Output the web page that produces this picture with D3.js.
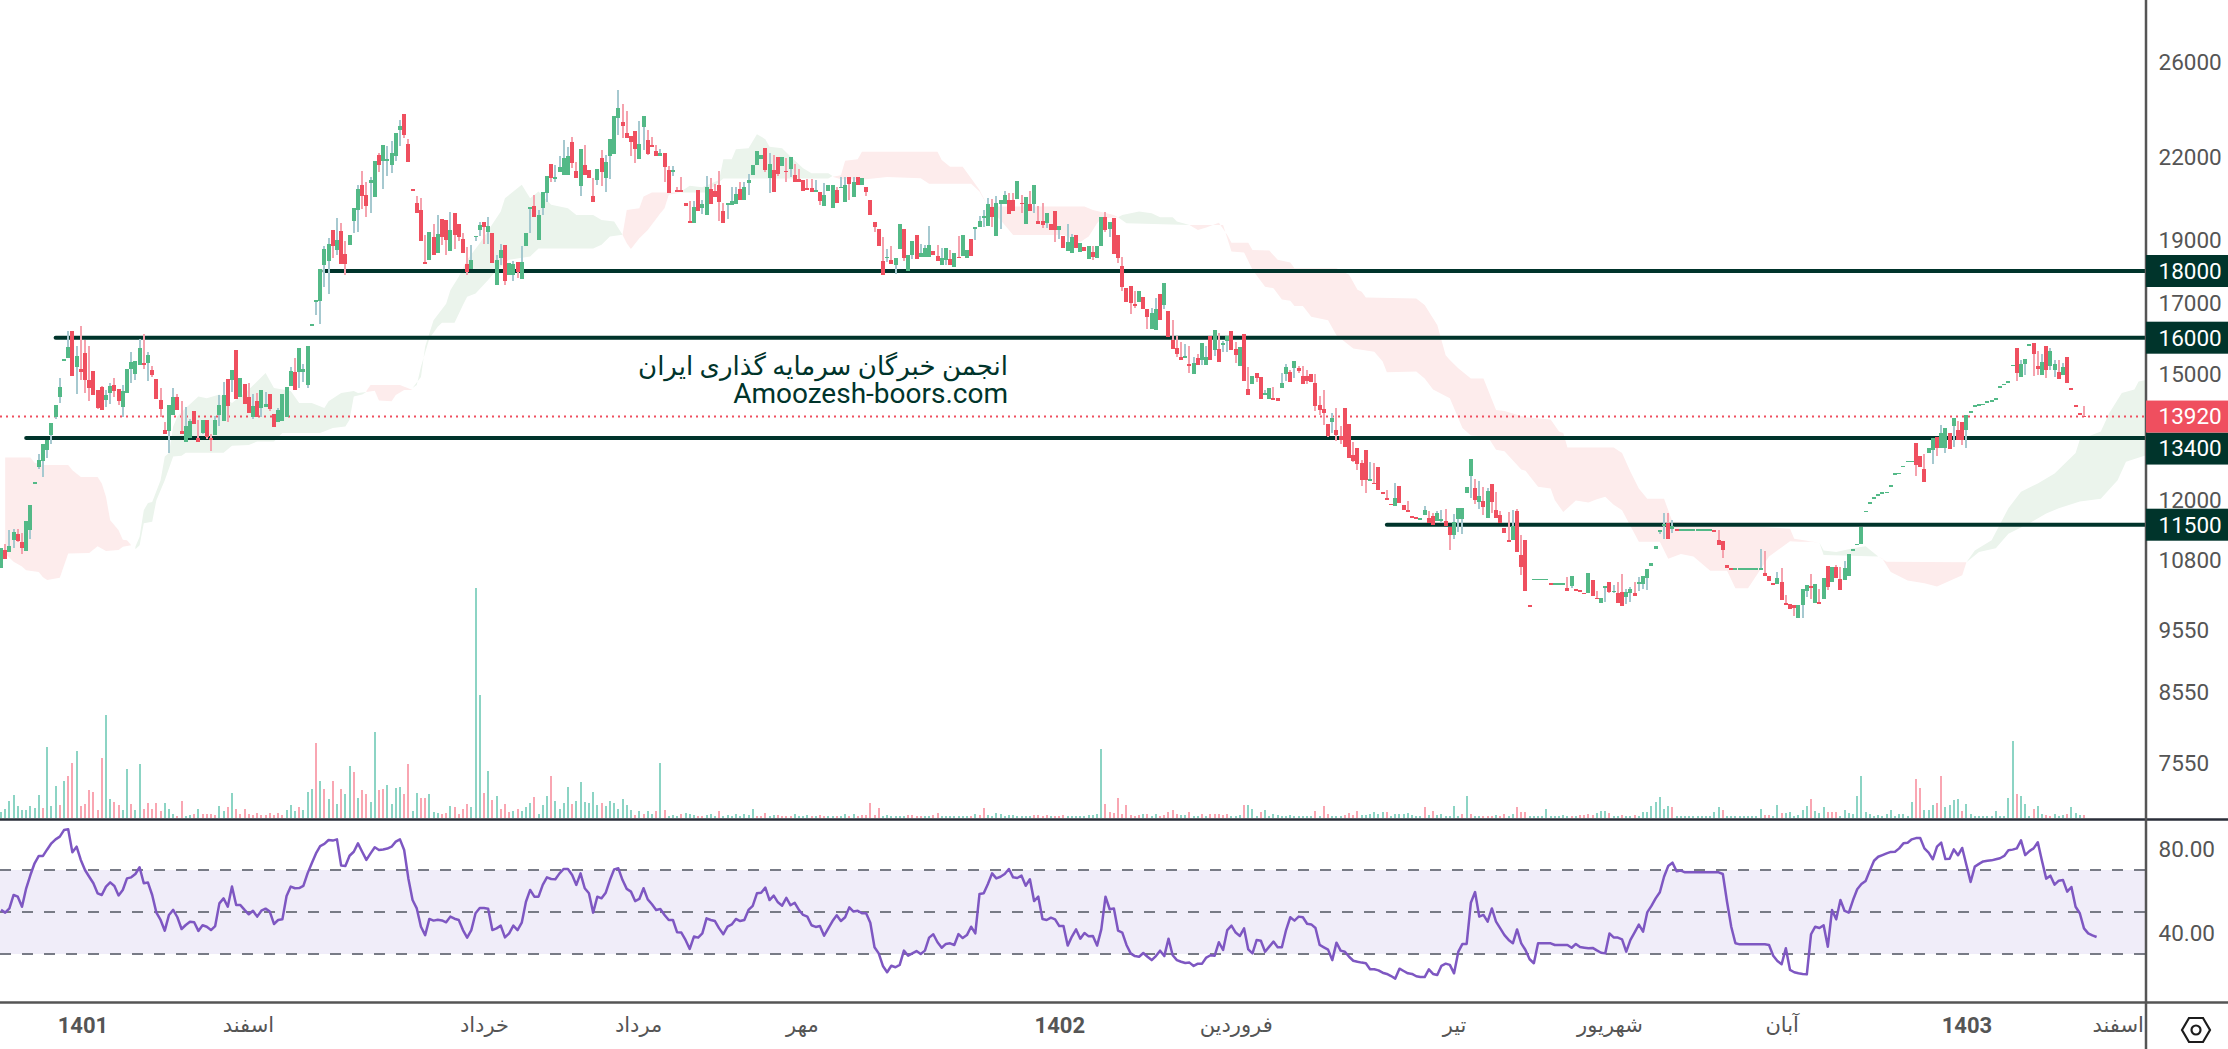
<!DOCTYPE html>
<html lang="fa"><head><meta charset="utf-8">
<script src="https://cdn.jsdelivr.net/npm/d3@7"></script>
<style>
html,body{margin:0;padding:0;background:#fff;overflow:hidden}
svg{display:block;font-family:Roboto,"Noto Sans","DejaVu Sans",sans-serif}
</style></head><body><svg id="c" width="2228" height="1049"></svg>
<script>
// [open, high, low, close] per trading day
const candlesA=[[10660,11030,10660,11030],[11000,11110,10820,10830],[10950,11390,10950,11070],[11200,11420,11030,11350],[11310,11420,11160,11180],[11150,11330,10920,11030],[10980,11570,10980,11570],[11390,11910,11210,11910],[12390,12400,12390,12400],[12740,13030,12690,12890],[12870,13260,12520,13260],[13120,13360,12940,13360],[13480,13760,13260,13760],[13900,14210,13860,14210],[14410,14900,14260,14670],[15390,15400,15380,15400],[15450,16200,15430,15740],[16200,16200,14960,14960],[15190,15770,14490,15490],[15140,16340,14850,15060],[15570,15930,14520,14850],[14850,15770,14310,14650],[15090,15090,14470,14470],[14600,14600,14110,14140],[14670,14690,14090,14090],[14340,14600,14160,14470],[14520,14770,14240,14690],[14720,14900,14420,14570],[14620,14620,14210,14310],[14160,14720,13910,14570],[14520,15140,14520,15140],[15140,15600,14770,15330],[15010,15350,14850,15350],[15250,15960,15250,15710],[15300,16100,15140,15250],[15300,15600,14820,15520],[15110,15220,14940,14980],[14880,14880,14370,14370],[14340,14650,13910,14110],[13600,13790,13500,13500],[13570,14210,13060,14210],[13960,14650,13960,14420],[14420,14490,14090,14090],[13570,14310,13500,13500],[13310,14150,13310,13700],[13400,13860,13400,13820],[14060,14060,13740,13740],[13400,13840,13310,13310],[13530,13840,13500,13840],[13840,13840,13380,13420],[13400,13500,13110,13350],[13480,13940,13480,13840],[13960,14470,13700,14210],[13820,14800,13820,14470],[14880,14880,13790,14190],[14850,15110,14540,15110],[15660,15660,14370,14370],[14420,14900,14420,14900],[14750,14750,14240,14240],[14420,14770,14010,14010],[13910,14490,13860,14190],[14310,14520,13910,13910],[14140,14600,13910,14600],[14160,14540,14160,14240],[14490,14490,14060,14110],[13980,13980,13670,13670],[13790,14140,13790,14090],[13820,14490,13820,14490],[13910,14670,13910,14670],[14700,15200,14700,15090],[15060,15440,14600,14600],[15060,15710,14650,15710],[15060,15270,14800,15140],[14720,15770,14650,15770],[16370,16380,16370,16380],[17080,17100,16650,17100],[17060,18050,16390,18050],[18200,18810,17500,18710],[18330,19080,17280,18880],[19350,19350,18430,18810],[18680,19770,18520,19010],[19310,19590,18230,18230],[18550,18980,17870,18230],[18850,19190,18850,19190],[19670,20120,19250,20120],[20050,20950,19280,20810],[20950,21470,20090,20550],[20590,21060,19800,20190],[21030,21250,19940,21140],[20520,21860,20520,21860],[22100,22170,21450,21710],[21860,22480,20810,22480],[21860,22450,21290,21940],[21710,22650,21400,22170],[22050,22960,21860,22960],[23090,23510,22450,23260],[23750,23750,22770,22890],[22530,22730,21820,21820],[20790,20790,20780,20780],[20300,20550,19940,19940],[20050,20480,18980,18980],[18290,19190,18230,18230],[18360,19280,18360,19280],[19120,19560,18520,18520],[18580,19870,18580,19220],[19740,19740,18850,19120],[19700,19700,18520,19010],[18650,19980,18650,19350],[19940,19940,18710,19180],[19560,19560,18980,19120],[19050,19250,18580,18580],[18230,18780,17880,17980],[18070,18850,18070,18360],[19150,19160,18980,19160],[19350,19630,19150,19520],[19630,19630,18880,19450],[19280,19800,18880,19490],[19250,19250,18260,18260],[17560,18520,17560,18360],[18430,18880,18200,18680],[18850,18850,17570,17690],[17880,18260,17880,18260],[17880,18330,17690,18230],[18290,18290,17780,17980],[17750,18810,17750,18290],[18810,19250,18810,19250],[20090,20160,19250,20160],[20190,20590,19800,19800],[19010,20050,19010,19870],[20120,20700,19870,20700],[20660,21290,20340,21290],[21740,21740,21060,21210],[21170,21710,21060,21250],[21420,22050,21420,21630]];
const candlesB=[[21320,22690,21320,21970],[21320,22410,21320,22050],[22610,22810,21590,21780],[21480,21820,21210,21210],[20910,22330,20550,22330],[21710,22490,21320,21320],[21510,21510,21210,21210],[20550,21210,20340,20340],[21140,21550,20960,21550],[21980,22290,20910,21440],[21210,22100,20700,21820],[22050,22730,21170,22730],[22130,23670,22130,23670],[23590,24800,22890,24010],[23400,24170,22770,23240],[22960,23870,22770,22770],[22840,22840,22050,22610],[23050,23050,21780,22330],[21940,23470,21940,22530],[23220,23670,22290,23670],[22690,23090,22100,22130],[22490,22810,22410,22410],[22250,22490,22050,22050],[22050,22330,22050,22170],[22170,22170,21060,21630],[21510,21660,20660,20660],[21500,21660,21290,21510],[20770,20860,20710,20710],[20760,21250,20740,20740],[20300,20300,20190,20190],[19650,20380,19590,19590],[19590,20380,19590,20160],[20770,20770,20010,20010],[20120,20410,19900,20260],[19870,21290,19870,20880],[20810,21210,20260,20260],[20730,21000,20520,20520],[20950,21470,19670,20340],[20010,20300,19590,19590],[20230,20300,19740,20300],[20230,20880,20230,20380],[20260,20880,20260,20620],[20810,21060,20410,20410],[20410,21060,20410,20880],[21030,21370,20590,21140],[21320,21710,21320,21710],[21710,22250,21710,22250],[21940,22100,21940,22100],[22370,22370,21440,21510],[21210,22170,20660,21740],[21510,22100,20700,20700],[22020,22020,21290,21370],[21660,22020,21660,22020],[21480,21980,21060,21470],[21550,22020,21250,22020],[21320,21740,21060,21060],[21170,21550,21060,21060],[21140,21140,20730,20730],[20840,21170,20770,20770],[20840,21170,20700,20700],[20750,21140,20750,20760],[20700,20700,20230,20380],[20190,21030,20190,20590],[20730,20950,20730,20950],[20120,20950,20120,20950],[20770,20880,20300,20300],[20870,21250,20870,20880],[20340,21250,20340,20950],[21250,21250,20410,21000],[20520,21250,20520,21060],[21250,21250,20950,20950],[20950,21210,20950,21210],[20880,20880,20550,20700],[20410,20410,19870,19870],[19630,19630,19280,19450],[19380,19380,18810,18810],[18330,19120,17880,17880],[18450,18710,18290,18460],[18360,18810,18230,18230],[18200,18420,17920,18420],[18710,19560,18710,19560],[19380,19380,18330,18430],[18000,18520,18000,18520],[18520,18980,18390,18980],[19180,19180,18390,18390],[18460,18880,18460,18580],[18460,18850,18460,18750],[18460,19490,18460,18850],[18650,18650,18520,18520],[18490,18850,18330,18330],[18190,18750,18190,18430],[18360,18750,18200,18750],[18390,18680,18200,18200],[18140,18580,18140,18580],[18460,19150,18440,18440],[18490,19180,18490,19180],[18430,18680,18430,18680],[19050,19050,18490,18490],[19440,19450,19010,19450],[19460,19840,19460,19670],[19770,20050,19460,19840],[19490,20480,19490,20260],[20160,20450,19460,19800],[19150,20550,19150,20300],[20260,20410,19400,20410],[20260,20730,20260,20590],[20410,20660,19910,19910],[20410,20660,20010,20010],[20450,21100,20450,21100],[20300,20590,19940,20260],[19560,20520,19560,20520],[20260,20730,20010,20010],[20260,20950,19940,20950],[19660,20190,19560,19560],[19650,20300,19420,19520],[19590,19940,19420,19940],[19560,19560,19350,19350],[20010,20010,18940,19350],[19350,19490,19040,19490],[19150,19150,18750,18750],[18650,19560,18650,18940],[18580,19220,18580,19120],[19180,19180,18750,18750],[18610,18910,18610,18910],[18780,18780,18650,18650],[18390,18810,18390,18810],[18620,18810,18360,18460],[18430,18810,18430,18810]];
const candlesC=[[18810,19800,18810,19800],[19800,19980,19280,19350],[19380,19630,19120,19630],[19770,19770,18550,18550],[19180,19180,18260,18430],[18170,18460,17380,17500],[17470,17470,17040,17040],[17530,17530,16680,17010],[16980,17370,16860,16920],[17040,17370,17040,17370],[17190,17190,16830,16830],[16830,16830,16240,16590],[16240,16860,16240,16710],[16220,17160,16220,16830],[17280,17280,16500,16500],[16950,17620,16830,17620],[16770,16770,16020,16020],[15930,16500,15690,15690],[15710,16050,15460,15540],[15460,15880,15380,15380],[15440,15820,15440,15490],[15270,15770,15040,15220],[15010,15470,15010,15300],[15440,15540,15250,15250],[15380,15850,15250,15850],[15250,15770,15250,15470],[16050,16050,15380,15380],[15660,16220,15490,16220],[15690,16130,15330,15330],[15800,15900,15600,15850],[15900,16050,15600,16050],[16180,16180,15660,15660],[15690,15880,15300,15520],[15220,15740,15220,15740],[16100,16100,14820,14820],[14620,15190,14470,14470],[14750,14960,14750,14960],[15040,15040,14800,14900],[14930,14930,14370,14370],[14490,14600,14490,14500],[14370,14650,14370,14650],[14380,14670,14360,14360],[14390,14390,14310,14310],[14650,15040,14650,14780],[15010,15270,14820,15190],[15060,15110,14800,14800],[15170,15350,14900,15350],[15170,15220,15040,15090],[14960,15220,14750,14750],[14960,15110,14750,14820],[15010,15010,14800,14800],[14780,15010,14060,14190],[14210,14440,13960,14090],[14110,14600,13720,14010],[13740,13740,13430,13460],[13790,14010,13530,13890],[13600,14140,13340,13480],[13460,13700,13260,13360],[14140,14140,13190,13190],[13740,13740,12940,12940],[13010,13310,12840,12870],[13170,13170,12660,12800],[12820,12890,12310,12440],[13130,13130,12160,12440],[12440,12840,12440,12460],[12380,12820,12350,12350],[12730,12730,12220,12220],[12180,12180,12160,12160],[12050,12230,12030,12030],[11930,11930,11910,11910],[11880,12380,11880,12050],[12310,12310,11950,11950],[11900,11900,11800,11800],[11800,11990,11760,11780],[11670,11670,11650,11650],[11650,11650,11610,11610],[11620,11630,11620,11630],[11700,11880,11700,11800],[11630,11780,11530,11530],[11670,11730,11490,11490],[11570,11780,11570,11730],[11590,11800,11550,11610],[11570,11820,11470,11470],[11450,11450,11000,11290],[11290,11720,11210,11550],[11610,11840,11350,11840],[11610,11840,11310,11840],[12160,12290,12160,12290],[12530,12910,12050,12910],[12270,12460,11930,12010],[11970,12420,11820,12090],[11990,12290,11700,11860],[11630,12270,11630,12200],[12350,12350,11730,11970],[11800,12180,11630,11630],[11700,11780,11530,11530],[11430,11430,11330,11330],[11190,11760,11170,11170],[11190,11800,11190,11470],[11780,11820,10950,10950],[10900,11290,10520,10670],[11190,11190,10230,10230],[9975,9975,9965,9965],[10440,10450,10440,10450],[10440,10450,10440,10450],[10440,10450,10440,10450],[10440,10450,10440,10450],[10370,10370,10360,10360],[10360,10370,10360,10370],[10360,10370,10360,10370],[10360,10370,10360,10370],[10280,10490,10230,10230],[10320,10510,10280,10510],[10260,10260,10230,10230],[10250,10250,10210,10210],[10195,10195,10180,10180],[10200,10560,10200,10560],[10430,10430,10140,10140],[10110,10230,10090,10090],[10010,10110,10010,10110],[10310,10320,10030,10320],[10390,10390,10190,10210],[10220,10340,10190,10230],[10200,10390,10010,10010],[10210,10540,9960,9960],[10130,10270,10000,10210],[10200,10300,10030,10270],[10200,10390,10140,10140],[10370,10490,10230,10390]];
const candlesD=[[10360,10500,10260,10500],[10470,10640,10250,10640],[10690,10740,10690,10740],[11020,11070,11020,11070],[11350,11390,11310,11390],[11470,11740,11220,11510],[11530,11740,11220,11220],[11410,11590,11330,11470],[11410,11410,11400,11400],[11400,11410,11400,11410],[11400,11410,11400,11410],[11400,11410,11400,11410],[11400,11410,11400,11410],[11400,11410,11400,11410],[11400,11410,11400,11410],[11400,11410,11400,11410],[11400,11410,11400,11410],[11390,11390,11380,11380],[11190,11390,11090,11090],[11170,11170,10840,11000],[10710,10710,10650,10650],[10650,10650,10640,10640],[10640,10650,10640,10650],[10640,10650,10640,10650],[10640,10650,10640,10650],[10640,10650,10640,10650],[10640,10650,10640,10650],[10640,10650,10640,10650],[10610,11010,10610,10650],[10560,10970,10500,10500],[10500,10500,10410,10410],[10370,10370,10360,10360],[10360,10580,10360,10470],[10390,10650,10070,10070],[10010,10160,10000,10000],[10000,10000,9910,9910],[9980,9980,9780,9930],[9760,9980,9760,9980],[9980,10270,9760,10270],[10230,10340,10120,10340],[10320,10540,10090,10310],[10010,10360,10010,10360],[10030,10270,10010,10010],[10090,10470,10090,10470],[10690,10690,10250,10300],[10390,10670,10390,10670],[10670,10710,10470,10470],[10450,10670,10250,10250],[10430,10790,10430,10650],[10500,10920,10500,10920],[11000,11010,11000,11010],[11110,11120,11110,11120],[11110,11460,11110,11460],[11780,11790,11780,11790],[11950,11960,11950,11960],[12060,12070,12060,12070],[12130,12140,12130,12140],[12170,12180,12170,12180],[12180,12190,12180,12190],[12320,12330,12320,12330],[12580,12590,12580,12590],[12590,12600,12590,12600],[12750,12760,12750,12760],[12870,12880,12870,12880],[12870,12880,12870,12880],[13290,13290,12530,12780],[12980,12980,12730,12730],[12690,13030,12400,12400],[13060,13160,13060,13160],[13120,13400,12800,13400],[13430,13430,12980,13170],[13170,13720,13170,13530],[13170,13630,13060,13630],[13530,13530,13150,13150],[13700,13890,13190,13890],[13600,13820,13360,13360],[13790,13790,13240,13360],[13600,13960,13170,13960],[14040,14050,14040,14050],[14190,14200,14190,14200],[14210,14220,14210,14220],[14230,14240,14230,14240],[14290,14300,14290,14300],[14320,14330,14320,14330],[14370,14380,14370,14380],[14670,14680,14670,14680],[14740,14750,14740,14750],[14810,14820,14810,14820],[15250,15260,15250,15260],[15710,15710,14820,15040],[14920,15380,14920,15270],[15270,15410,14980,15410],[15810,15820,15810,15820],[15850,15850,14960,15540],[15220,15620,14980,15140],[14980,15540,14980,15330],[15770,15770,14900,15110],[15220,15710,15110,15620],[15110,15380,14930,15270],[15060,15380,14880,14880],[14980,15300,14980,15190],[15460,15460,14780,14780],[14640,14640,14630,14630],[14200,14200,14190,14190],[14000,14000,13990,13990],[13940,14190,13920,13920]];

// signed volume, negative = down-day volume (arbitrary units)
const volumesA=[18,28,50,68,35,25,25,35,30,70,-30,212,35,95,-38,110,-125,-165,200,-35,-42,-85,-78,-24,-180,308,57,-48,-40,25,147,-42,25,162,-28,-45,-27,-45,-20,45,27,12,-5,-50,5,8,-12,27,-12,-12,-12,-8,35,20,-32,75,-27,-12,-27,-12,-8,-15,-8,-8,-15,-8,-15,-8,24,38,20,-32,24,78,87,-225,110,-87,57,-110,42,-87,72,155,-138,60,-84,-72,48,258,-84,-87,98,42,90,93,-72,-162,20,75,-60,-60,72,18,15,-12,-15,35,-33,-12,-27,-42,33,690,368,-75,140,-54,66,-27,-42,-18,22,-27,22,33,45,-63,12,39,66,-126,51,27,45,93,-42,51,108,48,45,78,39,-45,36,51,45,27,57,39,24,-9,21,-12,21,12,-21,165,-24,6,8,6,-12,15,12,8,-6,-6,9,12,5,-21,6,8,6,12];
const volumesB=[6,12,8,27,-6,-6,-15,6,9,-9,-6,-6,-6,12,6,6,9,-6,6,-9,-6,6,6,-6,6,12,-6,12,-6,-9,-9,-45,-9,-30,6,9,6,6,6,6,-9,-9,-6,-6,6,6,-9,-15,6,6,6,6,6,6,6,-6,12,-9,-30,9,6,15,12,6,9,9,6,6,6,6,-9,-9,-6,-9,6,-6,-6,-9,6,6,6,6,6,9,9,12,206,-42,-18,-15,-60,-12,-39,-9,-6,-9,12,-12,6,12,-6,-9,-18,-24,-12,9,9,-18,6,6,-12,6,-12,-12,-12,-9,-12,6,6,9,-39,39,27,6,-18,24,6,12,9,6,6,9,6,6,6,6,6,-21,6,-36,-12,6,6,6,-9,-15,-9,-21,9,9,12,18,12,18,-18,6,12,12,12,15,9,6,6,-33,9,-21,9,12,6,6,36,6,-12,66,-12,6,6];
const volumesC=[-6,-6,-6,9,-6,-12,6,12,-33,-18,-18,6,6,6,6,27,6,6,6,9,6,-6,6,-9,-9,-12,-9,15,21,21,-15,6,6,-9,6,6,-9,6,18,18,36,48,63,27,36,-33,6,6,6,6,6,6,6,6,6,18,33,-24,6,6,6,6,6,6,6,6,27,-9,-9,6,39,-15,15,18,6,9,24,36,-57,21,15,33,-18,-18,-18,6,24,15,12,66,126,18,12,6,9,6,12,24,6,12,12,6,48,-117,-90,24,24,39,-45,-126,33,39,54,57,-21,42,12,6,6,6,6,6,21,6,6,60,231,-72,66,42,6,-27,36,12,-9,-6,12,6,9,-12,33,15,9,-9];

const rsiA=[51,49.7,51.7,58.1,57.3,52.5,61.3,67.6,73.2,76.7,76.7,79.8,82.7,84.6,85.9,89,89.4,78.4,81.1,74.8,70,66.8,63.7,58.9,58.1,62.1,64.1,62.4,57.9,60.5,66,66.5,68.1,71.3,63.7,64,58.1,49.7,46.2,41.1,48.6,51,47.5,41.9,43.8,45.4,45.1,41,43.7,43,41.4,43.3,54.1,56.5,52.5,62.1,53.3,53.3,51,48.9,50.6,47.8,50.6,51.6,50.2,44.3,46.2,46.5,57.6,62.1,61.3,61.4,62.4,68.4,73.2,77.9,81.4,82.4,84.3,84,84.6,72.1,71.9,76.8,78.7,82.7,78.7,74.8,77.9,80.8,79.5,79.8,80.2,81.1,83.5,84.6,79.5,66,55.7,51.7,43,39,46.7,45.9,46.3,46,45.1,47.8,46.8,46.2,41.4,37.8,41.4,49.4,51.9,51.9,51.6,41.4,42.2,43.5,37.9,39.8,43.5,41.4,44.9,54.9,60.5,57.3,57.3,62.9,66.5,65.7,65.6,68.4,70.5,70.5,67.6,62.9,68.4,61.3,58.9,49.7,57.3,56.5,59.2,65.2,70.3,70.8,65.2,61,59.7,55.2,56.2,61.3,56,53.7,51,51.4,48.6,46.2,46.2,40.3,40.2,36.7,32.4,38.3,37.8,39.8,47,46.2,45.7,42.2,39.4,43,44.1,46.7,45.7];
const rsiB=[46.2,51,52.9,58.9,59.2,61.6,55.7,57.8,54.6,53,56.7,53.2,54.4,51,48.6,47.8,43.7,42.9,43.3,38.7,42.2,45.7,48.4,45.7,47.5,52.2,50.2,50.6,49.4,49.4,44.9,33.2,30.3,24.3,21.3,24.4,23.7,24.8,31.6,29.2,30.3,31.4,30,31.6,37.8,39.4,35.6,33,34.8,35.1,34.3,39.5,37.6,39,43,39.8,58.6,58.9,63.3,68.4,66,66.8,68.1,70.5,66.5,66.2,67.3,62.5,65.6,55.2,57.3,46.7,46.2,47.3,46.5,43.3,43.3,34,38.3,41.7,37.3,40,38.4,38.6,34,41.7,57.3,51.3,51.7,41.1,40.2,34.3,30.3,29,28.7,30.5,28.7,27.1,29,31.6,29,37.3,29.4,27.1,26.3,25.7,25.9,24.3,25.4,25.4,28.3,29.4,29.2,35.6,31.9,41.4,43.5,40.2,38.6,42.2,32.2,30.3,36.7,36.3,31.1,33.5,35.9,33.2,33.2,41.4,47.5,45.9,47.8,47.5,44.4,44.1,42.4,34.3,33.2,32.1,27.1,35.4,31.6,31.1,28.7,26.8,26.3,25.9,25.6,22.7,22.7,22.2,21.1,20.5,19.5,18.3,23,21.9,20.8,20.5,19.4,19,19,22.7,20.5,20,24.4,25.4,24.8,20.8,31,34.8,34.8,54.4,59.5,47.8,48.6];
const rsiC=[45.4,51.7,45.4,42.2,39,36.7,35.1,41.7,35.1,31.9,27.5,25.6,35.1,35.1,35.1,35.1,34.3,34.3,34.3,34.3,33,34.8,33.3,33,32.7,32.9,31.7,30.6,30.3,39.8,37.9,37.8,37,31.1,36.7,40.3,44,40.6,49.8,52.9,56.5,59.4,66.8,71.9,73.5,69.4,69.7,68.9,68.9,68.9,68.9,68.9,68.9,68.9,68.9,68.9,68.1,54.9,43,35.1,34.6,34.6,34.6,34.6,34.6,34.6,34.6,34.3,29.2,26.7,25.1,32.7,22.4,21.3,20.8,20.5,20.3,39.4,43,42.4,43.7,33.5,51,46.5,55.7,50.5,49.7,55.7,60.8,63.3,64.8,69.7,74.4,76.3,77.1,77.9,78.6,78.7,80.3,82.7,83,84.6,85.2,85.2,80.3,78.3,75.1,81.1,83,75.2,75.4,79.8,77,80.5,72.4,64.3,71.6,72.9,74.1,74.4,74.6,75.1,75.6,76.7,79.4,79.7,80.3,84.1,77.1,79,80.3,83.2,74.3,65.9,67.3,63,64.9,65.2,59.7,61.9,52.5,49.4,42.2,39.8,38.9,38.1];

// Ichimoku cloud: alternating stretches, each bounded by [barIndex, price] knots
const kumoRed1Top=[[1,12950],[7,12950],[8,12830],[10,12780],[16,12780],[17,12660],[19,12510],[23,12510],[24,12370],[25,12080],[26,11590],[28,11390],[29,11200],[30,11190],[31,11090]];
const kumoRed1Bottom=[[1,10930],[3,10770],[5,10680],[6,10610],[9,10580],[10,10480],[11,10430],[14,10470],[16,10930],[21,10940],[23,11070],[25,10980],[28,11000],[29,11060],[31,11090]];
const kumoGreen1Top=[[32,11060],[33,11260],[34,11800],[35,11950],[36,11970],[38,12440],[39,12970],[40,13050],[41,13680],[42,13920],[44,14130],[47,14420],[49,14380],[52,14470],[55,14260],[59,14600],[63,15030],[65,14640],[69,14560],[71,14260],[74,14260],[77,14130],[78,14300],[81,14510],[84,14560],[85,14510],[87,14540]];
const kumoGreen1Bottom=[[32,11010],[33,11090],[34,11530],[36,11560],[37,12010],[39,12440],[41,12970],[43,12990],[44,13060],[53,13060],[55,13220],[59,13240],[61,13320],[65,13320],[67,13520],[76,13520],[79,13640],[82,13680],[83,13840],[84,14420],[86,14470],[87,14540]];
const kumoRed2Top=[[87,14560],[88,14720],[95,14720],[98,14590]];
const kumoRed2Bottom=[[87,14540],[89,14570],[90,14320],[93,14300],[94,14460],[96,14590],[98,14590]];
const kumoGreen2Top=[[98,14640],[100,14930],[101,15750],[103,16500],[106,16990],[107,17400],[109,17820],[111,18360],[114,18900],[119,19990],[120,20470],[124,20960],[126,20470],[128,20710],[131,20230],[133,20170],[135,20110],[137,19870],[141,19870],[143,19700],[146,19640],[148,19190]];
const kumoGreen2Bottom=[[98,14640],[99,14720],[100,15200],[102,15980],[104,16310],[105,16430],[108,16430],[110,16950],[111,17200],[113,17300],[116,17720],[118,18030],[121,18360],[126,18470],[128,18730],[133,18730],[141,18730],[143,18850],[145,19130],[148,19190]];
const kumoRed3Top=[[148,19190],[149,20050],[152,20110],[153,20530],[155,20680],[162,20680]];
const kumoRed3Bottom=[[148,19190],[149,18900],[150,18710],[152,19070],[154,19350],[157,19930],[158,20110],[159,20590],[162,20680]];
const kumoGreen3Top=[[162,20720],[164,20920],[167,20870],[171,21140],[172,21930],[174,21930],[175,22320],[178,22360],[180,22920],[182,22720],[183,22420],[186,22360],[188,22030],[191,21580],[193,21390],[197,21390],[198,21290]];
const kumoGreen3Bottom=[[162,20680],[168,20680],[172,21190],[197,21190],[198,21290]];
const kumoRed4Top=[[198,21260],[200,21320],[201,21870],[204,21930],[205,22220],[223,22220],[224,21900],[226,21640],[229,21640],[231,21200],[233,20770],[235,20170],[238,20170],[258,20170],[260,20050],[265,19870],[266,19790]];
const kumoRed4Bottom=[[198,21260],[200,21170],[206,21170],[211,21250],[219,21200],[221,21000],[231,21000],[233,20710],[235,20170],[238,19700],[241,19180],[253,19180],[257,18950],[259,19130],[261,19580],[262,19760],[266,19790]];
const kumoGreen4Top=[[266,19790],[267,19870],[271,19990],[274,19930],[276,19790],[279,19790],[280,19640],[283,19520]];
const kumoGreen4Bottom=[[266,19790],[268,19580],[283,19520]];
const kumoRed5Top=[[283,19520],[285,19350],[287,19440],[290,19600],[292,19180],[293,18920],[297,18920],[298,18680],[302,18660],[304,18360],[307,18270],[308,18090],[318,18090],[321,17880],[323,17410],[324,17350],[325,17180],[337,17150],[339,16950],[342,16360],[344,15510],[345,15380],[347,15160],[350,14890],[353,14890],[356,14080],[358,14060],[363,13900],[369,13850],[371,13560],[372,13520],[373,13180],[384,13180],[386,13050],[388,12630],[390,12260],[392,12040],[396,12040],[398,11560],[426,11420],[427,11220],[433,11140]];
const kumoRed5Bottom=[[283,19520],[291,19520],[293,18630],[296,18600],[298,18040],[301,17510],[303,17460],[305,17120],[307,17080],[308,16920],[310,16920],[312,16600],[316,16500],[318,16070],[322,15700],[327,15610],[329,15340],[330,15050],[337,15070],[339,14890],[341,14600],[345,14380],[348,13640],[350,13460],[354,13440],[356,13130],[358,13090],[362,12680],[363,12650],[366,12300],[369,12260],[370,12010],[372,11760],[375,12000],[378,11960],[380,12030],[382,12080],[384,11910],[386,11800],[390,11160],[395,11160],[397,10830],[400,10920],[403,10870],[407,10600],[411,10600],[413,10280],[416,10280],[421,10870],[426,11170],[428,11160],[431,11160],[433,11140]];
const kumoGreen5Top=[[433,11140],[434,10990],[437,10960],[441,11030],[444,11070],[447,10870]];
const kumoGreen5Bottom=[[433,11140],[434,10900],[447,10870]];
const kumoRed6Top=[[447,10870],[449,10770],[468,10760]];
const kumoRed6Bottom=[[447,10870],[448,10830],[450,10580],[454,10420],[458,10370],[461,10310],[467,10520],[468,10760]];
const kumoGreen6Top=[[468,10760],[470,10990],[474,11190],[478,11840],[481,12190],[485,12370],[489,12590],[494,13050],[495,13360],[500,13560],[502,14000],[505,14510],[508,14600],[509,14810],[511,14850]];
const kumoGreen6Bottom=[[468,10760],[471,10960],[475,11030],[478,11320],[483,11530],[487,11730],[490,11840],[495,11980],[500,12040],[504,12440],[506,12850],[511,13010]];

const priceTicks=[26000,22000,19000,17000,15000,12000,10800,9550,8550,7550];
const levels=[18000,16000,13400,11500];
const levelStartBars=[77,13,6,330];
const lastPrice=13920;
const rsiTicks=[80,40];
const rsiBands=[70,50,30];
const timeTicks=[19.4,58.8,115,151.7,190.7,252,294,346,383,424,468,504];
const timeLabels=["1401","اسفند","خرداد","مرداد","مهر","1402","فروردین","تیر","شهریور","آبان","1403","اسفند"];
const watermark=["انجمن خبرگان سرمایه گذاری ایران","Amoozesh-boors.com"];
const watermarkSizes=[26,28];

const candles=[...candlesA,...candlesB,...candlesC,...candlesD];
const volumes=[...volumesA,...volumesB,...volumesC];
const rsi=[...rsiA,...rsiB,...rsiC];
const kumo=[
 ["r",kumoRed1Top,kumoRed1Bottom],["g",kumoGreen1Top,kumoGreen1Bottom],["r",kumoRed2Top,kumoRed2Bottom],
 ["g",kumoGreen2Top,kumoGreen2Bottom],["r",kumoRed3Top,kumoRed3Bottom],["g",kumoGreen3Top,kumoGreen3Bottom],
 ["r",kumoRed4Top,kumoRed4Bottom],["g",kumoGreen4Top,kumoGreen4Bottom],["r",kumoRed5Top,kumoRed5Bottom],
 ["g",kumoGreen5Top,kumoGreen5Bottom],["r",kumoRed6Top,kumoRed6Bottom],["g",kumoGreen6Top,kumoGreen6Bottom]];

const W=2228,H=1049,axisX=2146,dark="#00342b",UP="#53b987",DOWN="#ef4f5f";
const x=d3.scaleLinear().domain([0,496]).range([1,2084]);
const y=d3.scaleLog().domain([7550,18000]).range([763,271]);
const vY=d3.scaleLinear().domain([0,690]).range([818,588]);
const rY=d3.scaleLinear().domain([30,70]).range([954,870]);
const svg=d3.select("#c");
svg.append("defs").append("clipPath").attr("id","plot").append("rect").attr("width",axisX).attr("height",H);
const plot=svg.append("g").attr("clip-path","url(#plot)");

// cloud
const kline=d3.line().x(d=>x(d[0])).y(d=>y(d[1]));
plot.append("g").selectAll("path").data(kumo).join("path")
 .attr("d",d=>kline([...d[1],...d[2].slice().reverse()])+"Z")
 .attr("fill",d=>d[0]==="g"?"#ebf4ec":"#fdecec");

// last price dotted line
plot.append("line").attr("x1",0).attr("x2",axisX).attr("y1",y(lastPrice)).attr("y2",y(lastPrice))
 .attr("stroke",DOWN).attr("stroke-width",2).attr("stroke-dasharray","2 4");

// levels
plot.append("g").selectAll("line").data(levels).join("line")
 .attr("x1",(d,i)=>x(levelStartBars[i])).attr("x2",axisX+2)
 .attr("y1",d=>y(d)).attr("y2",d=>y(d))
 .attr("stroke",dark).attr("stroke-width",4).attr("stroke-linecap","round");

// candles
const gc=plot.append("g").attr("shape-rendering","crispEdges");
gc.append("g").selectAll("rect").data(candles.map((c,i)=>({c,i})).filter(d=>d.c[1]>Math.max(d.c[0],d.c[3])||d.c[2]<Math.min(d.c[0],d.c[3]))).join("rect")
 .attr("x",d=>x(d.i)-1).attr("width",2)
 .attr("y",d=>y(d.c[1])).attr("height",d=>y(d.c[2])-y(d.c[1]))
 .attr("fill",d=>d.c[3]>=d.c[0]?"#a6c9d0":"#f5a3ae");
gc.append("g").selectAll("rect").data(candles.map((c,i)=>({c,i}))).join("rect")
 .attr("x",d=>x(d.i)-2).attr("width",4)
 .attr("y",d=>y(Math.max(d.c[0],d.c[3])))
 .attr("height",d=>Math.max(1.5,y(Math.min(d.c[0],d.c[3]))-y(Math.max(d.c[0],d.c[3]))))
 .attr("fill",d=>d.c[3]>=d.c[0]?UP:DOWN);

// volume
plot.append("g").attr("shape-rendering","crispEdges").selectAll("rect").data(volumes).join("rect")
 .attr("x",(d,i)=>x(i)-1).attr("width",2)
 .attr("y",d=>vY(Math.abs(d))).attr("height",d=>vY(0)-vY(Math.abs(d)))
 .attr("fill",d=>d>=0?"#8cd4c4":"#f9a6b2");

// rsi band
svg.append("rect").attr("x",0).attr("width",axisX).attr("y",rY(70)).attr("height",rY(30)-rY(70)).attr("fill","#f0edf9");
svg.append("g").selectAll("line").data(rsiBands).join("line")
 .attr("x1",0).attr("x2",axisX).attr("y1",d=>rY(d)).attr("y2",d=>rY(d))
 .attr("stroke","#787b86").attr("stroke-width",2).attr("stroke-dasharray","11 11");
svg.append("path").datum(rsi).attr("fill","none").attr("stroke","#7e57c2").attr("stroke-width",2.5).attr("stroke-linejoin","round")
 .attr("d",d3.line().x((d,i)=>x(i)).y(d=>rY(d)));

// panel rules
svg.append("line").attr("x1",0).attr("x2",W).attr("y1",819.5).attr("y2",819.5).attr("stroke","#2a2e39").attr("stroke-width",2.5);
svg.append("line").attr("x1",0).attr("x2",W).attr("y1",1002.5).attr("y2",1002.5).attr("stroke","#555").attr("stroke-width",2.5);
svg.append("line").attr("x1",axisX).attr("x2",axisX).attr("y1",0).attr("y2",H).attr("stroke","#555").attr("stroke-width",2.5);

// axes
function clean(g){g.select(".domain").remove();g.selectAll(".tick line").remove();}
const axStyle=g=>g.selectAll("text").attr("fill","#555").attr("font-size",22.5).attr("font-family","Roboto,'Noto Sans','DejaVu Sans',sans-serif");
svg.append("g").attr("transform",`translate(${axisX},0)`)
 .call(d3.axisRight(y).tickValues(priceTicks).tickFormat(d3.format("d")).tickSize(0).tickPadding(12.5)).call(clean).call(axStyle);
svg.append("g").attr("transform",`translate(${axisX},0)`)
 .call(d3.axisRight(rY).tickValues(rsiTicks).tickFormat(d3.format(".2f")).tickSize(0).tickPadding(12.5)).call(clean).call(axStyle);
svg.append("g").attr("transform","translate(0,1025)")
 .call(d3.axisBottom(x).tickValues(timeTicks).tickFormat((d,i)=>timeLabels[i]).tickSize(0).tickPadding(0)).call(clean).call(axStyle)
 .call(g=>g.selectAll("text").attr("dy","0.35em").attr("y",0)
   .attr("font-weight",(d,i)=>/^\d/.test(timeLabels[i])?700:400).attr("font-size",(d,i)=>/^\d/.test(timeLabels[i])?22:21));

// price tags
const tagH=32;
const tagY=d=>Math.abs(y(d)-y(lastPrice))<tagH?y(lastPrice)+tagH:y(d);
const tags=svg.append("g");
tags.selectAll("rect").data(levels).join("rect").attr("x",axisX).attr("width",W-axisX).attr("height",tagH)
 .attr("y",d=>tagY(d)-tagH/2).attr("fill",dark);
tags.selectAll("text").data(levels).join("text").attr("x",axisX+12.5).attr("y",d=>tagY(d)).attr("dy","0.35em")
 .attr("fill","#fff").attr("font-size",22.5).text(d=>d);
svg.append("rect").attr("x",axisX).attr("width",W-axisX).attr("height",tagH).attr("y",y(lastPrice)-tagH/2).attr("fill",DOWN);
svg.append("text").attr("x",axisX+12.5).attr("y",y(lastPrice)).attr("dy","0.35em").attr("fill","#fff").attr("font-size",22.5).text(lastPrice);

// watermark
svg.append("g").selectAll("text").data(watermark).join("text")
 .attr("x",1008).attr("y",(d,i)=>375+i*28).attr("text-anchor","end").attr("fill",dark).attr("font-size",(d,i)=>watermarkSizes[i]).text(d=>d);

// settings icon
const ico=svg.append("g").attr("transform","translate(2196,1030)").attr("fill","none").attr("stroke","#1c1c1c").attr("stroke-width",2.2);
ico.append("path").attr("d","M-14,0L-7,-12L7,-12L14,0L7,12L-7,12Z");
ico.append("circle").attr("r",4.5);
</script></body></html>
